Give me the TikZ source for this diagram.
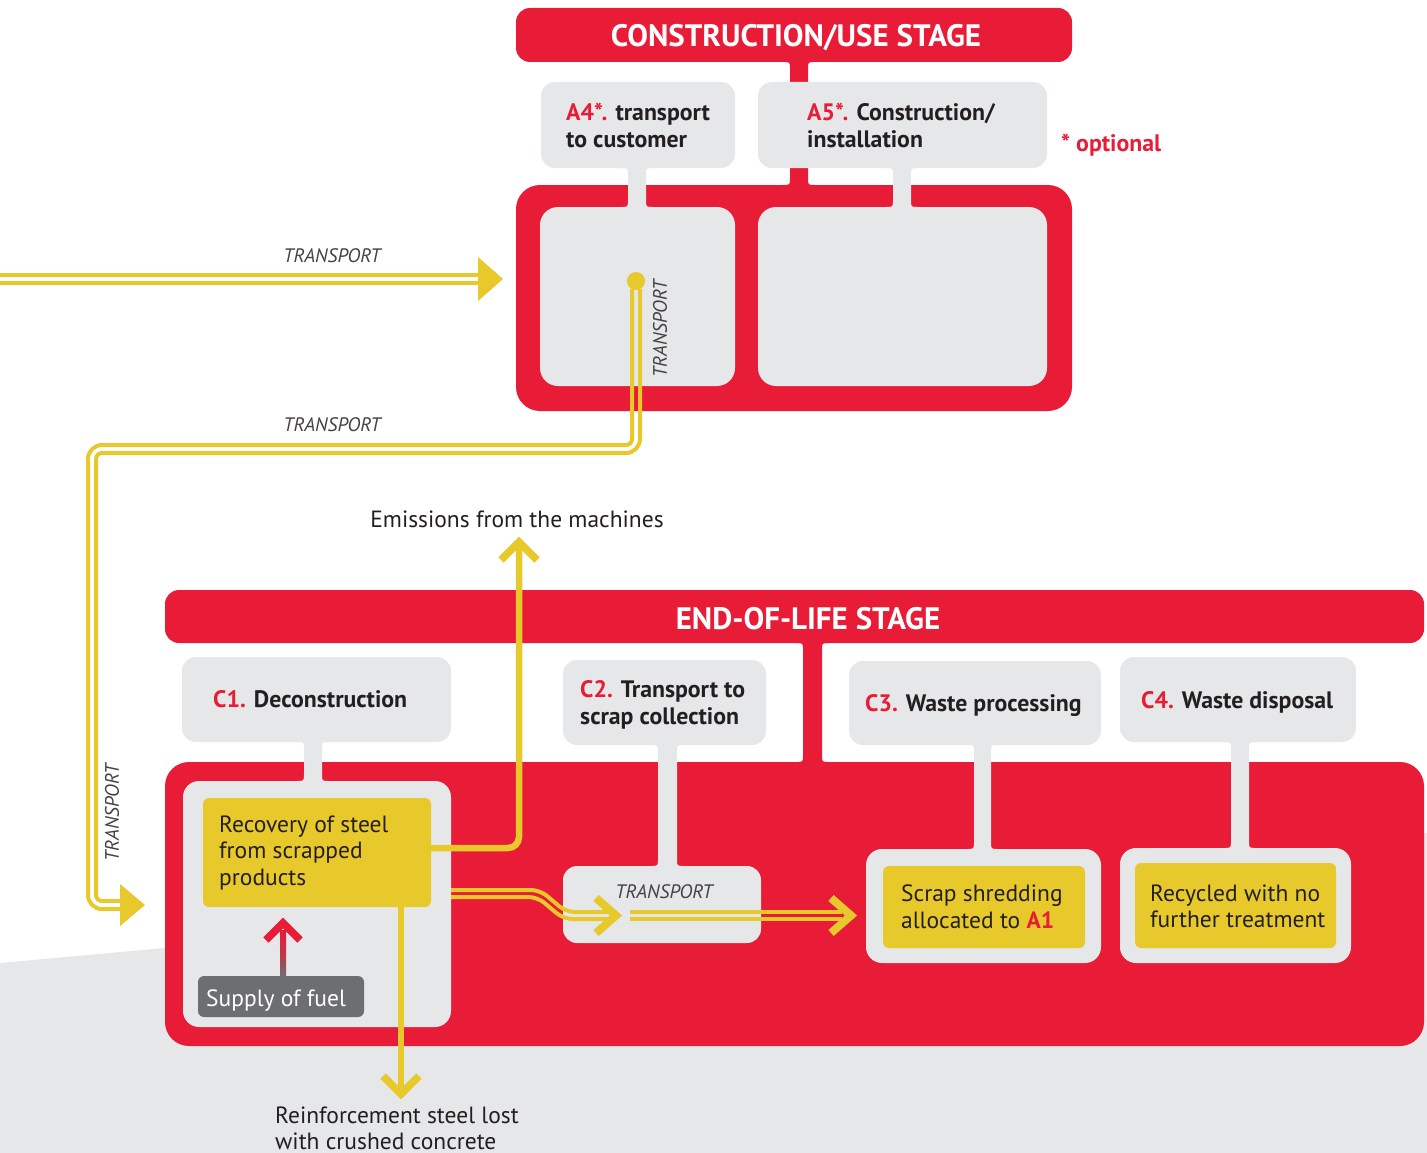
\documentclass[tikz,border=0pt]{standalone}
\usepackage{fontspec}
\setmainfont{PT Sans}
\usetikzlibrary{calc}
\definecolor{myred}{HTML}{E81C36}
\definecolor{myyel}{HTML}{E8C92B}
\definecolor{mygrey}{HTML}{E6E7E8}
\definecolor{mydark}{HTML}{6D6E71}
\definecolor{mytext}{HTML}{231F20}
\tikzset{
  shp/.style={inner sep=0pt, outer sep=0pt, draw=none},
  lbl/.style={font=\fontsize{23.8}{27}\selectfont\bfseries, text=mytext, anchor=base west, inner sep=0pt},
  body/.style={font=\fontsize{23.5}{27}\selectfont, text=mytext, anchor=base west, inner sep=0pt},
  trlabel/.style={font=\fontsize{19.5}{22}\selectfont\itshape, text=mytext!85, inner sep=0pt},
  headtext/.style={font=\fontsize{31}{36}\selectfont\bfseries, text=white, inner sep=0pt},
  yline/.style={draw=myyel, line width=4pt},
  ythick/.style={draw=myyel, line width=6.5pt},
  chev/.style={draw=myyel, line width=7.5pt, miter limit=10, line join=miter},
}
% box node: name, style, x1, y1, x2, y2
\newcommand\mkbox[6]{\node[shp,#2,minimum width={(#5-#3)*1pt},minimum height={(#6-#4)*1pt}] (#1) at ({(#3+#5)/2},{(#4+#6)/2}) {};}
% stub with fillets: colour, x1, x2, yA, yB
\newcommand\mkstub[5]{\fill[#1] (#2-7,#4) -- (#3+7,#4) .. controls (#3,#4) .. (#3,#4+7) -- (#3,#5-7) .. controls (#3,#5) .. (#3+7,#5) -- (#2-7,#5) .. controls (#2,#5) .. (#2,#5-7) -- (#2,#4+7) .. controls (#2,#4) .. cycle;}
\begin{document}
\begin{tikzpicture}[x=1pt,y=-1pt]
\useasboundingbox (0,0) rectangle (1427,1153);
% background
\fill[mygrey] (0,963) -- (1427,833) -- (1427,1153) -- (0,1153) -- cycle;

% ---------- construction / use stage ----------
\mkstub{myred}{790}{808}{62}{185}
\mkbox{cuhead}{fill=myred,rounded corners=14pt}{516}{8}{1072}{62}
\mkbox{culow}{fill=myred,rounded corners=24pt}{516}{185}{1072}{411}
\mkstub{mygrey}{628}{646}{168}{207}
\mkstub{mygrey}{893}{911}{168}{207}
\mkbox{a4}{fill=mygrey,rounded corners=14pt}{541}{82}{735}{168}
\mkbox{a5}{fill=mygrey,rounded corners=14pt}{758}{82}{1047}{168}
\mkbox{in1}{fill=mygrey,rounded corners=18pt}{540}{207}{735}{386}
\mkbox{in2}{fill=mygrey,rounded corners=18pt}{758}{207}{1047}{386}

% ---------- end-of-life stage ----------
\mkstub{myred}{803}{822}{643}{762}
\mkbox{eolhead}{fill=myred,rounded corners=14pt}{165}{590}{1424}{643}
\mkbox{eollow}{fill=myred,rounded corners=24pt}{165}{762}{1424}{1046}
\mkstub{mygrey}{304}{322}{742}{781}
\mkstub{mygrey}{658}{677}{745}{866}
\mkstub{mygrey}{974}{991}{745}{849}
\mkstub{mygrey}{1231}{1249}{742}{848}
\mkbox{c1}{fill=mygrey,rounded corners=14pt}{182}{657}{451}{742}
\mkbox{c1in}{fill=mygrey,rounded corners=16pt}{183}{781}{451}{1027}
\mkbox{c2}{fill=mygrey,rounded corners=14pt}{563}{660}{766}{745}
\mkbox{c2in}{fill=mygrey,rounded corners=14pt}{563}{866}{761}{943}
\mkbox{c3}{fill=mygrey,rounded corners=14pt}{849}{661}{1101}{745}
\mkbox{c3in}{fill=mygrey,rounded corners=16pt}{866}{849}{1101}{963}
\mkbox{c4}{fill=mygrey,rounded corners=14pt}{1120}{657}{1356}{742}
\mkbox{c4in}{fill=mygrey,rounded corners=16pt}{1120}{848}{1351}{963}
\mkbox{rec}{fill=myyel,rounded corners=6pt}{203}{798}{431}{907}
\mkbox{shred}{fill=myyel,rounded corners=6pt}{883}{866}{1085}{948}
\mkbox{recyc}{fill=myyel,rounded corners=6pt}{1135}{863}{1336}{948}
\mkbox{fuel}{fill=mydark,rounded corners=6pt}{198}{976}{364}{1017}

% ---------- coordinates for connectors ----------
\coordinate (t1s) at (0,279);
\coordinate (t1e) at (503,279);
\coordinate (dot) at (636,281);
\coordinate (t2e) at (145,905);
\coordinate (emi) at (519,542);
\coordinate (lost) at (401,1094);
\coordinate (c2arr) at (616,915.5);
\coordinate (c3arr) at (851,915.5);

% transport 1
\draw[yline] (t1s |- 0,275) -- (482,275);
\draw[yline] (t1s |- 0,283) -- (482,283);
\fill[myyel] (478,257) -- (t1e) -- (478,301) -- cycle;

% transport 2 (double line)
\draw[yline,rounded corners=6pt] ($(dot)+(-4,8)$) -- (632,445) [rounded corners=14pt] -- (88,445) -- (88,909) -- (122,909);
\draw[yline,rounded corners=14pt] ($(dot)+(4,8)$) -- (640,453) [rounded corners=6pt] -- (96,453) -- (96,901) -- (122,901);
\fill[myyel] (dot) circle (9);
\fill[myyel] (120,884) -- (t2e) -- (120,926) -- cycle;

% emissions
\draw[ythick,rounded corners=11pt] (rec.east |- 0,848) -- (519,848) -- ($(emi)+(0,6)$);
\draw[chev] (501,560) -- (emi) -- (537,560);

% steel lost
\draw[ythick] (rec.south -| 401,0) -- ($(lost)+(0,-6)$);
\draw[chev] (383,1076) -- (lost) -- (419,1076);

% supply of fuel arrow
\shade[top color=myred, bottom color=mydark, middle color=myred!70!mydark] (280,930) rectangle (286,976);
\draw[myred, line width=7.5pt, miter limit=10] (266,940) -- (283,923) -- (300,940);

% C1 -> C2 double line
\draw[yline,rounded corners=9pt] (c1in.east |- 0,890) -- (540,890) -- (566,912) -- (608,912);
\draw[yline,rounded corners=9pt] (c1in.east |- 0,897) -- (537.5,897) -- (563.5,919) -- (608,919);
\draw[chev,line width=8pt] ($(c2arr)+(-20,-17.5)$) -- (c2arr) -- ($(c2arr)+(-20,17.5)$);
% C2 -> C3 double line
\draw[yline] (630,912) -- (842,912);
\draw[yline] (630,919) -- (842,919);
\draw[chev,line width=8pt] ($(c3arr)+(-20,-17.5)$) -- (c3arr) -- ($(c3arr)+(-20,17.5)$);

% ---------- texts ----------
\node[headtext] (cuht) at (796,38) {CONSTRUCTION/USE STAGE};
\node[lbl] (a4t1) at (566,121) {\textcolor{myred}{A4*.} transport};
\node[lbl] (a4t2) at (566,147) {to customer};
\node[lbl] (a5t1) at (807,121) {\textcolor{myred}{A5*.} Construction/};
\node[lbl] (a5t2) at (807,147) {installation};
\node[lbl,text=myred] (opt) at (1061,152) {* optional};
\node[trlabel] (tr1) at (332,256) {TRANSPORT};
\node[trlabel] (tr2) at (332,425) {TRANSPORT};
\node[trlabel,rotate=90] (tr3) at (660,329) {TRANSPORT};
\node[trlabel,rotate=90] (tr4) at (112,813) {TRANSPORT};
\node[body,anchor=base] (emt) at (517,527) {Emissions from the machines};
\node[headtext] (eolt) at (808,619) {END-OF-LIFE STAGE};
\node[lbl] (c1t) at (213,707) {\textcolor{myred}{C1.} Deconstruction};
\node[lbl] (c2t1) at (580,697) {\textcolor{myred}{C2.} Transport to};
\node[lbl] (c2t2) at (580,724) {scrap collection};
\node[lbl] (c3t) at (865,711) {\textcolor{myred}{C3.} Waste processing};
\node[lbl] (c4t) at (1141,708) {\textcolor{myred}{C4.} Waste disposal};
\node[body] (rect1) at (219,832) {Recovery of steel};
\node[body] (rect2) at (219,858) {from scrapped};
\node[body] (rect3) at (219,885) {products};
\node[body,text=white] (fuelt) at (206,1006) {Supply of fuel};
\node[trlabel] (tr5) at (664,892) {TRANSPORT};
\node[body] (sh1) at (901,901) {Scrap shredding};
\node[body] (sh2) at (901,928) {allocated to \textcolor{myred}{\bfseries A1}};
\node[body] (ry1) at (1150,901) {Recycled with no};
\node[body] (ry2) at (1150,927) {further treatment};
\node[body] (lo1) at (275,1123) {Reinforcement steel lost};
\node[body] (lo2) at (275,1149) {with crushed concrete};
\end{tikzpicture}
\end{document}
